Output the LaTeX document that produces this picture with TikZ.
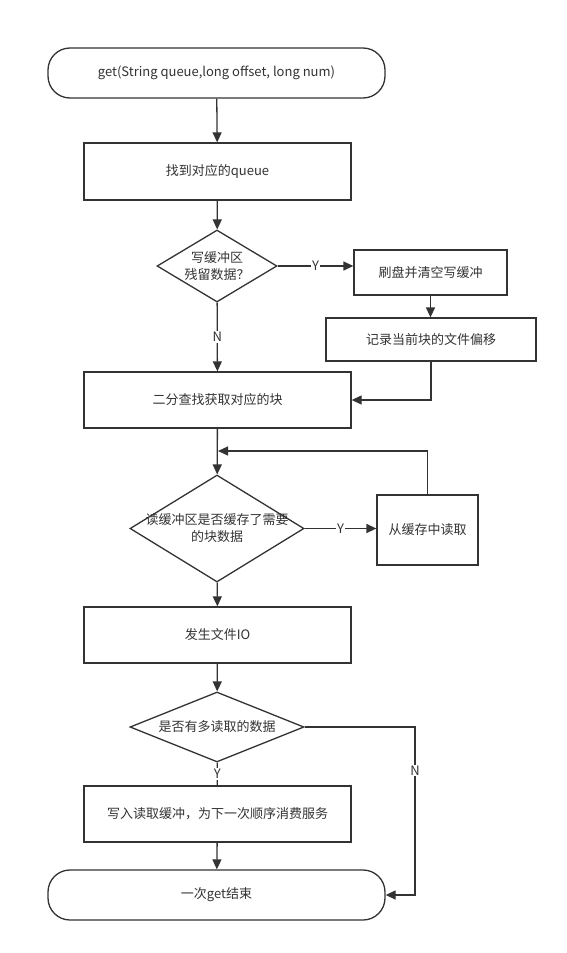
\documentclass[tikz,border=0pt]{standalone}
\usepackage{fontspec}
\setmainfont{Noto Sans CJK SC}
\usepackage{tikz}
\usetikzlibrary{arrows.meta,shapes.geometric}
\definecolor{ln}{HTML}{333333}

\begin{document}
\begin{tikzpicture}[x=1pt,y=-1pt,
  every node/.style={font=\fontsize{13}{17}\selectfont,text=ln},
  term/.style={draw=ln,line width=1.3pt,rounded corners=22pt,minimum width=337,minimum height=50,fill=white},
  box/.style={draw=ln,line width=1.3pt,fill=white},
  dec/.style={draw=ln,line width=1.3pt,diamond,inner sep=0pt,fill=white},
  arr/.style={-{Triangle[length=10pt,width=9pt]},draw=ln,line width=1.3pt},
  lin/.style={draw=ln,line width=1.3pt},
  lab/.style={fill=white,inner sep=1pt}
]
  \useasboundingbox[fill=white] (0,0) rectangle (567,953);
  \node[term] (t0) at (216.5,73) {get(String queue,long offset, long num)};
  \node[box,minimum width=267,minimum height=57] (b1) at (217.5,171.5) {找到对应的queue};
  \node[dec,minimum width=120,minimum height=72] (d1) at (217,266) {};
  \node[align=center] (d1t) at (d1) {写缓冲区\\残留数据？};
  \node[box,minimum width=153,minimum height=45] (b2) at (430.5,272.5) {刷盘并清空写缓冲};
  \node[box,minimum width=210,minimum height=43] (b3) at (431,339.5) {记录当前块的文件偏移};
  \node[box,minimum width=267,minimum height=56] (b4) at (217.5,400) {二分查找获取对应的块};
  \node[dec,minimum width=174,minimum height=107] (d2) at (217,528.5) {};
  \node[align=center] (d2t) at (d2) {读缓冲区是否缓存了需要\\的块数据};
  \node[box,minimum width=101,minimum height=70] (b5) at (427.5,530) {从缓存中读取};
  \node[box,minimum width=267,minimum height=56] (b6) at (217.5,635) {发生文件IO};
  \node[dec,minimum width=174,minimum height=70] (d3) at (217,727) {};
  \node (d3t) at (d3) {是否有多读取的数据};
  \node[box,minimum width=267,minimum height=56] (b7) at (217.5,814) {写入读取缓冲，为下一次顺序消费服务};
  \node[term] (t1) at (216.5,895) {一次get结束};
  \coordinate (m1) at (218,451);
  \coordinate (m2) at (415,895);

  \draw[arr] (t0) -- (b1);
  \draw[arr] (b1) -- (d1);
  \draw[arr] (d1.east) -- node[lab] {Y} (d1.east -| b2.west);
  \draw[arr] (b2.south) -- (b2.south |- b3.north);
  \draw[arr] (b3.south) |- (b4.east);
  \draw[arr] (d1) -- node[lab] {N} (b4);
  \draw[arr] (b4) -- (d2);
  \draw[arr] (d2.east) -- node[lab] {Y} (d2.east -| b5.west);
  \draw[arr] (b5.north) |- (m1);
  \draw[arr] (d2) -- (b6);
  \draw[arr] (b6) -- (d3);
  \draw[lin] (d3) -- node[lab] {Y} (b7);
  \draw[arr] (b7) -- (t1);
  \draw[arr] (d3.east) -| node[lab,pos=0.63] {N} (m2) -- (t1.east);
\end{tikzpicture}
\end{document}
